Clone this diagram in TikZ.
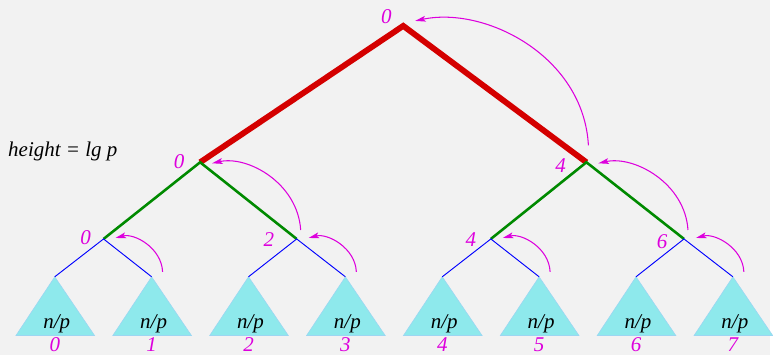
\documentclass[tikz,border=0pt]{standalone}
\usepackage{fontspec}
\setmainfont{Liberation Serif}
\usetikzlibrary{arrows.meta}
\definecolor{bgG}{HTML}{F2F2F2}
\definecolor{trRed}{HTML}{D40000}
\definecolor{trGreen}{HTML}{008A00}
\definecolor{trBlue}{HTML}{0000FF}
\definecolor{trMag}{HTML}{DD00DD}
\definecolor{blkFill}{HTML}{8EE9EC}
\definecolor{blkEdge}{HTML}{9CD6F2}

\begin{document}
\begin{tikzpicture}[x=0.03cm,y=-0.03cm,
  num/.style={text=trMag,font=\fontsize{18}{21}\selectfont\itshape,inner sep=0pt},
  np/.style={font=\fontsize{18}{21}\selectfont\itshape,inner sep=0pt,anchor=base},
  lvlA/.style={trRed,line width=5pt,line join=miter},
  lvlB/.style={trGreen,line width=2.2pt},
  lvlC/.style={trBlue,line width=0.8pt},
  send/.style={trMag,line width=0.9pt,-{Stealth[length=9pt,width=5pt,inset=2pt]}},
  blk/.style={fill=blkFill,draw=blkEdge,line width=0.5pt}]
\fill[bgG](0,0)rectangle(773,357);
% leaf blocks
\foreach \i in {0,...,7}{
  \coordinate (t\i) at (55+97.3*\i,278);
  \filldraw[blk](t\i)--++(-39,59)--++(79,0)--cycle;
  \node[np] (np\i) at (57+97.3*\i,330) {n/p};
  \node[num] (id\i) at (55+97.3*\i,346.5) {\i};
}
% tree points
\coordinate (r) at (405,26);
\coordinate (a0) at (201,163);\coordinate (a4) at (589,163);
\coordinate (b0) at (104,240);\coordinate (b2) at (298,240);
\coordinate (b4) at (493,240);\coordinate (b6) at (687,240);
\draw[lvlA](a0)--(r)--(a4);
\draw[lvlB](b0)--(a0)--(b2);\draw[lvlB](b4)--(a4)--(b6);
\draw[lvlC](t0)--(b0)--(t1);\draw[lvlC](t2)--(b2)--(t3);
\draw[lvlC](t4)--(b4)--(t5);\draw[lvlC](t6)--(b6)--(t7);
% rank labels
\node[num] (lr) at (388,17) {0};
\node[num] (la0) at (180,162) {0};\node[num] (la4) at (563,166) {4};
\node[num] (lb0) at (86,239) {0};\node[num] (lb2) at (270,241) {2};
\node[num] (lb4) at (473,241) {4};\node[num] (lb6) at (665,243) {6};
\node[anchor=base west,font=\fontsize{18}{21}\selectfont\itshape,inner sep=0pt] (ht) at (8,157) {height = lg p};
% sends
\draw[send]([shift={(2,-17)}]a4)..controls +(-5,-90) and +(70,-15)..([shift={(12,-5)}]r);
\draw[send]([shift={(4,-9)}]b2)..controls +(-3,-47) and +(36,-8)..([shift={(12,1)}]a0);
\draw[send]([shift={(4,-9)}]b6)..controls +(-3,-47) and +(36,-8)..([shift={(12,1)}]a4);
\draw[send]([shift={(11,-5)}]t1)..controls +(-1,-24) and +(19,-5)..([shift={(12,-1)}]b0);
\draw[send]([shift={(11,-5)}]t3)..controls +(-1,-24) and +(19,-5)..([shift={(12,-1)}]b2);
\draw[send]([shift={(11,-5)}]t5)..controls +(-1,-24) and +(19,-5)..([shift={(12,-1)}]b4);
\draw[send]([shift={(11,-5)}]t7)..controls +(-1,-24) and +(19,-5)..([shift={(12,-1)}]b6);
\end{tikzpicture}
\end{document}
